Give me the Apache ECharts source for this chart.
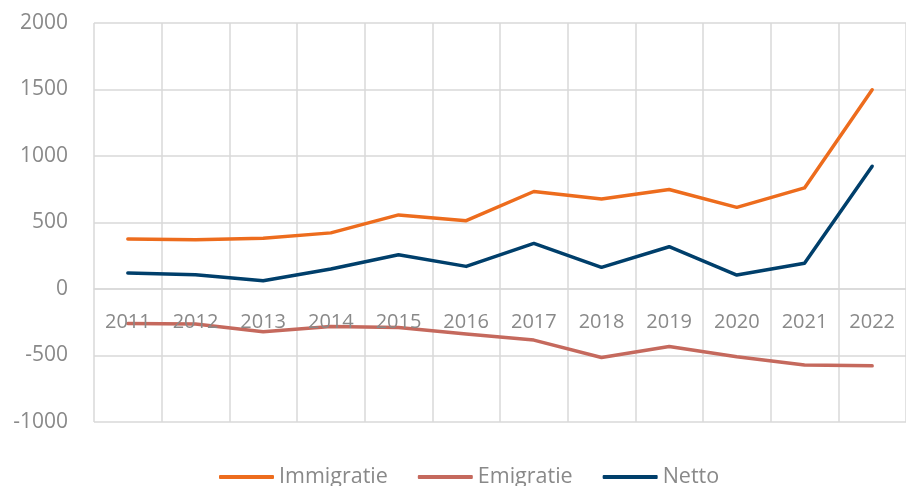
<!DOCTYPE html>
<html>
<head>
<meta charset="utf-8">
<script src="https://cdn.jsdelivr.net/npm/echarts@6/dist/echarts.min.js"></script>
<style>
    html, body { margin: 0; padding: 0; background: #fff; }
    #chart { width: 906px; height: 486px; }
</style>
</head>
<body>
<div id="chart"></div>
<script>
// 年份
const years = ['2011', '2012', '2013', '2014', '2015', '2016', '2017', '2018', '2019', '2020', '2021', '2022']
const immigratie = [376, 371, 381, 422, 557, 514, 733, 676, 748, 614, 760, 1498]
const emigratie = [-259, -264, -322, -282, -289, -339, -384, -515, -432, -510, -572, -578]
const netto = [120, 108, 62, 151, 258, 170, 343, 163, 318, 105, 193, 923]

const TEXT_COLOR = '#898989'
const GRID_COLOR = '#d9d9d9'
const FONT = '"Open Sans", "Noto Sans", sans-serif'

function lineSeries(name, data, color) {
    return {
        name: name,
        type: 'line',
        data: data,
        symbol: 'none',
        lineStyle: { color: color, width: 3.5, cap: 'round', join: 'round' },
        itemStyle: { color: color }
    }
}

let myChart = echarts.init(document.getElementById('chart'))
myChart.setOption({
    animation: false,
    textStyle: { fontFamily: FONT },
    grid: { left: 94, top: 23, width: 818, bottom: 64 },
    legend: {
        top: 461,
        left: 214,
        icon: 'roundRect',
        itemWidth: 55,
        itemHeight: 4,
        itemGap: 30,
        textStyle: { color: TEXT_COLOR, fontSize: 21.5, fontFamily: FONT },
        data: ['Immigratie', 'Emigratie', 'Netto']
    },
    xAxis: [{
        // 网格竖线
        type: 'category',
        data: years,
        boundaryGap: true,
        axisLine: { show: false },
        axisTick: { show: false },
        axisLabel: { show: false },
        splitLine: { show: true, lineStyle: { color: GRID_COLOR, width: 1.5 } }
    }, {
        // 年份标签, 画在线条上面
        type: 'category',
        data: years,
        position: 'bottom',
        boundaryGap: true,
        z: 5,
        axisLine: { show: true, onZero: false, lineStyle: { color: GRID_COLOR, width: 1.5 } },
        axisTick: { show: false },
        axisLabel: { color: TEXT_COLOR, fontSize: 20, margin: 23, fontFamily: FONT },
        splitLine: { show: false }
    }],
    yAxis: {
        type: 'value',
        min: -1000,
        max: 2000,
        interval: 500,
        axisLine: { show: false },
        axisTick: { show: false },
        axisLabel: {
            color: TEXT_COLOR, fontSize: 21, margin: 26, fontFamily: FONT,
            formatter: v => String(v)
        },
        splitLine: { show: true, lineStyle: { color: GRID_COLOR, width: 1.5 } }
    },
    series: [
        lineSeries('Immigratie', immigratie, '#ED6C1D'),
        lineSeries('Emigratie', emigratie, '#C5695D'),
        lineSeries('Netto', netto, '#003F6B')
    ]
})

// 横轴标签放到 0 刻度处
const zeroY = myChart.convertToPixel({ yAxisIndex: 0 }, 0)
const bottomY = myChart.convertToPixel({ yAxisIndex: 0 }, -1000)
myChart.setOption({ xAxis: [{}, { offset: -(bottomY - zeroY) }] })
</script>
</body>
</html>
